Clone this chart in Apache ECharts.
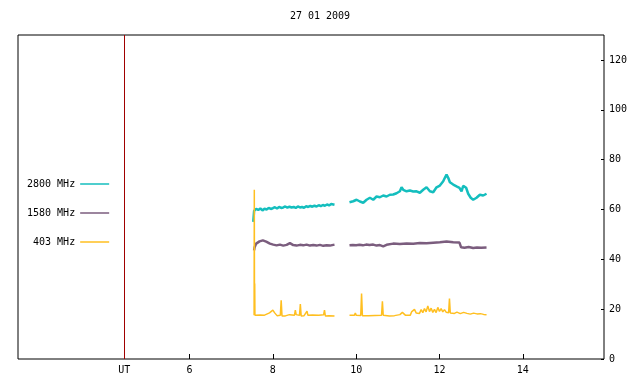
<!DOCTYPE html>
<html>
<head>
<meta charset="utf-8">
<script src="https://cdn.jsdelivr.net/npm/echarts@6/dist/echarts.min.js"></script>
<style>
  html, body { margin: 0; padding: 0; background: #fff; }
  #chart { width: 640px; height: 384px; }
</style>
</head>
<body>
<div id="chart"></div>
<script>
// hours (UT) and readings, '-' marks the gap in the record
const t2800 = [7.53, 7.55, 7.60, 7.65, 7.70, 7.75, 7.80, 7.85, 7.90, 7.95, 8.00, 8.05, 8.10, 8.15, 8.20, 8.25, 8.30, 8.35, 8.40, 8.45,
  8.50, 8.55, 8.60, 8.65, 8.70, 8.75, 8.80, 8.85, 8.90, 8.95, 9.00, 9.05, 9.10, 9.15, 9.20, 9.25, 9.30, 9.35, 9.40, 9.48,
  9.65,
  9.84, 9.93, 10.01, 10.09, 10.17, 10.25, 10.33, 10.41, 10.49, 10.57, 10.65, 10.73, 10.81, 10.89, 10.97, 11.05, 11.09, 11.13,
  11.21, 11.29, 11.37, 11.45, 11.53, 11.61, 11.69, 11.77, 11.85, 11.93, 12.01, 12.09, 12.13, 12.17, 12.21, 12.25, 12.33,
  12.41, 12.48, 12.53, 12.57, 12.64, 12.69, 12.75, 12.81, 12.89, 12.97, 13.05, 13.13]
const v2800 = [55, 59.4, 60.2, 59.8, 60.4, 59.6, 60.3, 60.0, 60.6, 60.2, 60.5, 60.9, 60.4, 61.0, 60.6, 60.8, 61.2, 60.7, 61.1, 60.8,
  61.0, 60.6, 61.2, 60.8, 61.0, 60.7, 61.3, 61.0, 61.4, 61.1, 61.5, 61.2, 61.7, 61.3, 61.8, 61.5, 62.0, 61.6, 62.2, 61.9,
  '-',
  62.9, 63.3, 63.9, 63.2, 62.7, 63.9, 64.7, 63.9, 65.2, 64.9, 65.6, 65.2, 65.9, 66.0, 66.5, 67.3, 68.9, 67.9,
  67.3, 67.6, 67.2, 67.3, 66.7, 67.9, 68.9, 67.3, 66.9, 68.9, 69.6, 71.3, 72.7, 74.0, 72.7, 70.9, 70.0,
  69.3, 68.7, 67.3, 69.5, 68.7, 66.3, 64.7, 63.9, 64.7, 65.9, 65.6, 66.3]

const t1580 = [7.55, 7.56, 7.60, 7.68, 7.76, 7.84, 7.93, 8.01, 8.09, 8.17, 8.25, 8.33, 8.41, 8.49, 8.57, 8.65, 8.73, 8.81, 8.89,
  8.97, 9.05, 9.13, 9.21, 9.29, 9.37, 9.48,
  9.65,
  9.84, 9.92, 10.00, 10.08, 10.16, 10.24, 10.32, 10.41, 10.49, 10.57, 10.65, 10.73, 10.89, 11.05, 11.21, 11.37, 11.53,
  11.69, 11.85, 12.01, 12.17, 12.33, 12.48, 12.52, 12.60, 12.70, 12.81, 12.90, 13.00, 13.13]
const v1580 = [43.6, 44.7, 46.3, 47.2, 47.6, 47.1, 46.3, 45.9, 45.6, 45.9, 45.5, 45.8, 46.5, 45.7, 45.5, 45.8, 45.6, 45.9, 45.5,
  45.7, 45.5, 45.8, 45.4, 45.6, 45.5, 45.9,
  '-',
  45.6, 45.7, 45.6, 45.8, 45.6, 45.9, 45.7, 45.9, 45.5, 45.7, 45.2, 45.8, 46.3, 46.1, 46.3, 46.2, 46.5,
  46.4, 46.6, 46.8, 47.1, 46.8, 46.7, 44.8, 44.6, 44.9, 44.5, 44.7, 44.6, 44.7]

const t403 = [7.55, 7.555, 7.56, 7.565, 7.57, 7.60, 7.70, 7.80, 7.92, 7.96, 8.00, 8.04, 8.07, 8.10, 8.18, 8.20, 8.22, 8.30,
  8.40, 8.52, 8.54, 8.56, 8.60, 8.64, 8.66, 8.68, 8.75, 8.82, 8.84, 8.95, 9.10, 9.22, 9.24, 9.26, 9.35, 9.48,
  9.65,
  9.84, 9.96, 9.98, 10.00, 10.11, 10.13, 10.15, 10.30, 10.45, 10.61, 10.63, 10.65, 10.80, 10.92, 11.05, 11.11, 11.18,
  11.30, 11.33, 11.36, 11.40, 11.44, 11.48, 11.52, 11.56, 11.60, 11.64, 11.68, 11.72, 11.76, 11.80, 11.84, 11.88,
  11.92, 11.96, 12.00, 12.04, 12.08, 12.12, 12.16, 12.22, 12.24, 12.26, 12.30, 12.36, 12.42, 12.50, 12.58, 12.66,
  12.74, 12.82, 12.90, 12.98, 13.06, 13.13]
const v403 = [17.6, 67.9, 17.8, 30.3, 17.6, 17.8, 17.7, 17.6, 18.5, 18.2, 19.6, 18.6, 18.0, 17.4, 17.6, 23.6, 17.3, 17.3,
  17.8, 17.6, 19.6, 17.8, 17.4, 17.5, 22.0, 17.3, 17.4, 19.2, 17.6, 17.7, 17.6, 17.8, 19.6, 17.3, 17.4, 17.3,
  '-',
  17.6, 17.6, 18.5, 17.6, 17.5, 26.3, 17.4, 17.4, 17.5, 17.6, 23.2, 17.6, 17.3, 17.4, 17.8, 18.7, 17.6,
  17.6, 18.9, 18.2, 19.9, 18.5, 19.3, 18.3, 19.8, 18.6, 20.2, 18.9, 21.3, 19.0, 20.4, 18.7, 19.9,
  18.6, 20.7, 19.1, 20.2, 18.9, 19.8, 18.8, 18.6, 24.3, 18.5, 18.4, 18.3, 18.8, 18.2, 18.7, 18.3,
  18.0, 18.4, 18.1, 18.2, 17.9, 17.8]

const utHour = 4.435
const xTickValues = [6, 8, 10, 12, 14]
const yTickValues = [0, 20, 40, 60, 80, 100, 120]
const seriesNames = ['2800 MHz', '1580 MHz', '403 MHz']
const seriesColors = ['#14bebe', '#7b5d7e', '#ffbf20']

const pairs = (t, v) => t.map((h, i) => [h, v[i]])
const font = 'DejaVu Sans Mono'

const chartInstance = echarts.init(document.getElementById('chart'))
chartInstance.setOption({
  animation: false,
  backgroundColor: '#fff',
  title: {
    text: '27 01 2009',
    left: 'center',
    top: 11,
    padding: 0,
    textStyle: { fontFamily: font, fontSize: 10, fontWeight: 'normal', color: '#000' }
  },
  legend: {
    orient: 'vertical',
    align: 'right',
    left: 27,
    top: 177,
    padding: 0,
    itemGap: 15,
    itemWidth: 29,
    itemHeight: 1.5,
    icon: 'rect',
    data: seriesNames,
    textStyle: { fontFamily: font, fontSize: 10, color: '#000', lineHeight: 14 }
  },
  grid: {
    left: 18,
    right: 36,
    top: 35,
    bottom: 25,
    show: true,
    borderColor: '#000',
    borderWidth: 1
  },
  xAxis: {
    type: 'value',
    min: 1.882,
    max: 15.95,
    axisLine: { show: false },
    splitLine: { show: false },
    axisTick: { show: true, inside: true, length: 5, lineStyle: { color: '#000' }, customValues: xTickValues },
    axisLabel: {
      margin: 6,
      fontFamily: font,
      fontSize: 10,
      color: '#000',
      customValues: [utHour].concat(xTickValues),
      formatter: v => (v < 5 ? 'UT' : String(v))
    }
  },
  yAxis: {
    type: 'value',
    position: 'right',
    min: 0,
    max: 130,
    axisLine: { show: false },
    splitLine: { show: false },
    axisTick: { show: true, inside: true, length: 3, lineStyle: { color: '#000' }, customValues: yTickValues },
    axisLabel: { margin: 5, fontFamily: font, fontSize: 10, color: '#000', customValues: yTickValues }
  },
  series: [
    {
      name: seriesNames[0],
      type: 'line',
      showSymbol: false,
      color: seriesColors[0],
      lineStyle: { width: 2.5 },
      data: pairs(t2800, v2800)
    },
    {
      name: seriesNames[1],
      type: 'line',
      showSymbol: false,
      color: seriesColors[1],
      lineStyle: { width: 2.5 },
      data: pairs(t1580, v1580)
    },
    {
      name: seriesNames[2],
      type: 'line',
      showSymbol: false,
      color: seriesColors[2],
      lineStyle: { width: 1.5 },
      data: pairs(t403, v403),
      markLine: {
        silent: true,
        symbol: ['none', 'none'],
        label: { show: false },
        lineStyle: { color: '#a00000', type: 'solid', width: 1 },
        data: [{ xAxis: utHour }]
      }
    }
  ]
})
</script>
</body>
</html>
